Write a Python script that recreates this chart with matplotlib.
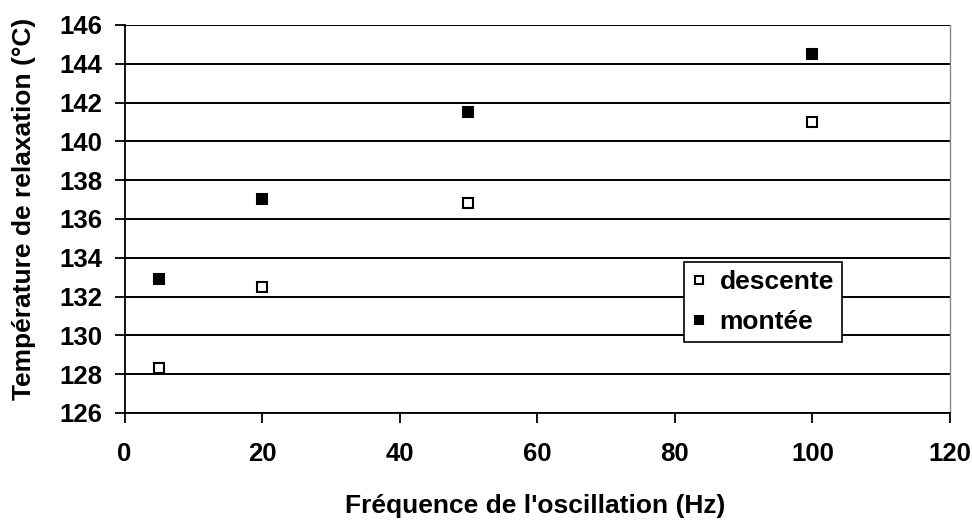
import matplotlib
matplotlib.use("Agg")
import matplotlib.pyplot as plt

freq = [5, 20, 50, 100]
descente = [128.3, 132.5, 136.85, 141.0]
montee = [132.9, 137.05, 141.5, 144.5]
xticks = [0, 20, 40, 60, 80, 100, 120]
yticks = [126, 128, 130, 132, 134, 136, 138, 140, 142, 144, 146]

plt.rcParams['font.family'] = ['Liberation Sans', 'DejaVu Sans']
plt.rcParams['font.weight'] = 'bold'

W, H = 972, 520
L, R, T, B = 124.5, 950, 25, 413
fig = plt.figure(figsize=(W/100, H/100), dpi=100)
ax = fig.add_axes([L/W, 1-B/H, (R-L)/W, (B-T)/H])

for y in yticks:
    ax.axhline(y, color='black', lw=1.4, zorder=1)

ax.plot(freq, descente, linestyle='none', marker='s', markersize=7,
        markerfacecolor='white', markeredgecolor='black', markeredgewidth=1.5,
        label='descente', zorder=3)
ax.plot(freq, montee, linestyle='none', marker='s', markersize=7,
        markerfacecolor='black', markeredgecolor='black', markeredgewidth=1.5,
        label='montée', zorder=3)

ax.set_xlim(0, 120)
ax.set_ylim(126, 146)
ax.set_xticks(xticks)
ax.set_yticks(yticks)
ax.tick_params(axis='both', direction='out', length=7.2, width=1.3, labelsize=18.5)
ax.tick_params(axis='x', pad=14)
ax.tick_params(axis='y', pad=9)
for lab in ax.get_xticklabels() + ax.get_yticklabels():
    lab.set_fontweight('bold')

ax.spines['top'].set_visible(False)
ax.spines['right'].set_color('#888888')
ax.spines['right'].set_linewidth(1.0)
ax.spines['left'].set_linewidth(1.3)
ax.spines['bottom'].set_linewidth(1.3)

fig.text(535.5/W, 1-513/H, "Fréquence de l'oscillation (Hz)", fontsize=19,
         fontweight='bold', ha='center', va='baseline')
fig.text(24/W, 1-209/H, "Température de relaxation (°C)", fontsize=19,
         fontweight='bold', ha='center', va='center', rotation=90)

leg = ax.legend(loc='upper left', bbox_to_anchor=((684-L)/(R-L), (B-262)/(B-T)),
                frameon=True, fancybox=False, edgecolor='black', framealpha=1,
                prop={'size': 19, 'weight': 'bold'}, handlelength=0.5, handletextpad=0.55,
                borderpad=0.3, labelspacing=0.62, markerscale=0.75, borderaxespad=0)
leg.get_frame().set_linewidth(1.2)

fig.savefig('out.png', dpi=100)
